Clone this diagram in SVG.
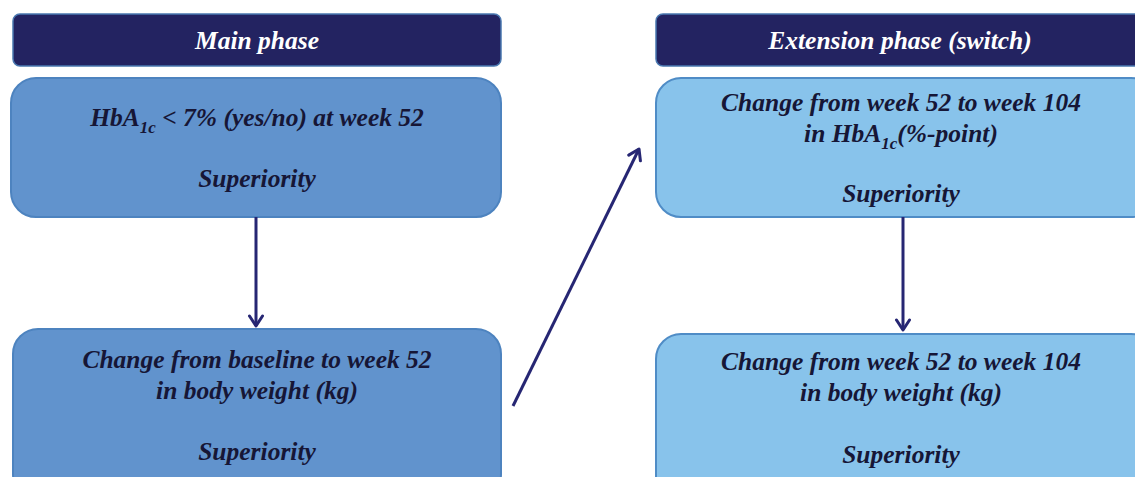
<svg xmlns="http://www.w3.org/2000/svg" width="1135" height="477" viewBox="0 0 1135 477">
<style>
.hdr{fill:#232361;stroke:#4a78b0;stroke-width:1.5}
.main{fill:#6193cd;stroke:#4d83bf;stroke-width:2}
.ext{fill:#88c3eb;stroke:#4f8cc6;stroke-width:2}
text{font-family:"Liberation Serif","Times New Roman",serif;font-weight:bold;font-style:italic;font-size:25.5px;text-anchor:middle;fill:#161636}
.ht{fill:#ffffff}
.conn{stroke:#262673;stroke-width:3;fill:none;marker-end:url(#ah)}
</style>
<defs>
<marker id="ah" markerWidth="16" markerHeight="18" refX="12" refY="8" orient="auto" markerUnits="userSpaceOnUse">
<path d="M2,1.5 L12,8 L2,14.5" fill="none" stroke="#262673" stroke-width="3" stroke-linecap="round" stroke-linejoin="round"/>
</marker>
</defs>
<rect width="1135" height="477" fill="#ffffff"/>
<g id="hdr-main">
<rect class="hdr" x="13" y="14" width="488" height="52" rx="7"/>
<text class="ht" x="257" y="49">Main phase</text>
</g>
<g id="hdr-ext">
<rect class="hdr" x="656" y="14" width="490" height="52" rx="7"/>
<text class="ht" x="900" y="49">Extension phase (switch)</text>
</g>
<g id="box1">
<rect class="main" x="11" y="78" width="490" height="139" rx="25"/>
<text x="257" y="126">HbA<tspan font-size="17" dy="7">1c</tspan><tspan dy="-7"> &lt; 7% (yes/no) at week 52</tspan></text>
<text x="257" y="187">Superiority</text>
</g>
<g id="box2">
<rect class="main" x="13" y="329" width="488" height="170" rx="25"/>
<text x="257" y="368">Change from baseline to week 52</text>
<text x="257" y="399">in body weight (kg)</text>
<text x="257" y="460">Superiority</text>
</g>
<g id="box3">
<rect class="ext" x="656" y="78" width="500" height="139" rx="25"/>
<text x="901" y="111">Change from week 52 to week 104</text>
<text x="901" y="142">in HbA<tspan font-size="17" dy="7">1c</tspan><tspan dy="-7">(%-point)</tspan></text>
<text x="901" y="202">Superiority</text>
</g>
<g id="box4">
<rect class="ext" x="656" y="334" width="500" height="170" rx="25"/>
<text x="901" y="370">Change from week 52 to week 104</text>
<text x="901" y="401">in body weight (kg)</text>
<text x="901" y="463">Superiority</text>
</g>
<g id="connectors">
<line class="conn" x1="256" y1="217" x2="256" y2="326"/>
<line class="conn" x1="513" y1="406" x2="639" y2="149"/>
<line class="conn" x1="903" y1="217" x2="903" y2="330"/>
</g>
</svg>
